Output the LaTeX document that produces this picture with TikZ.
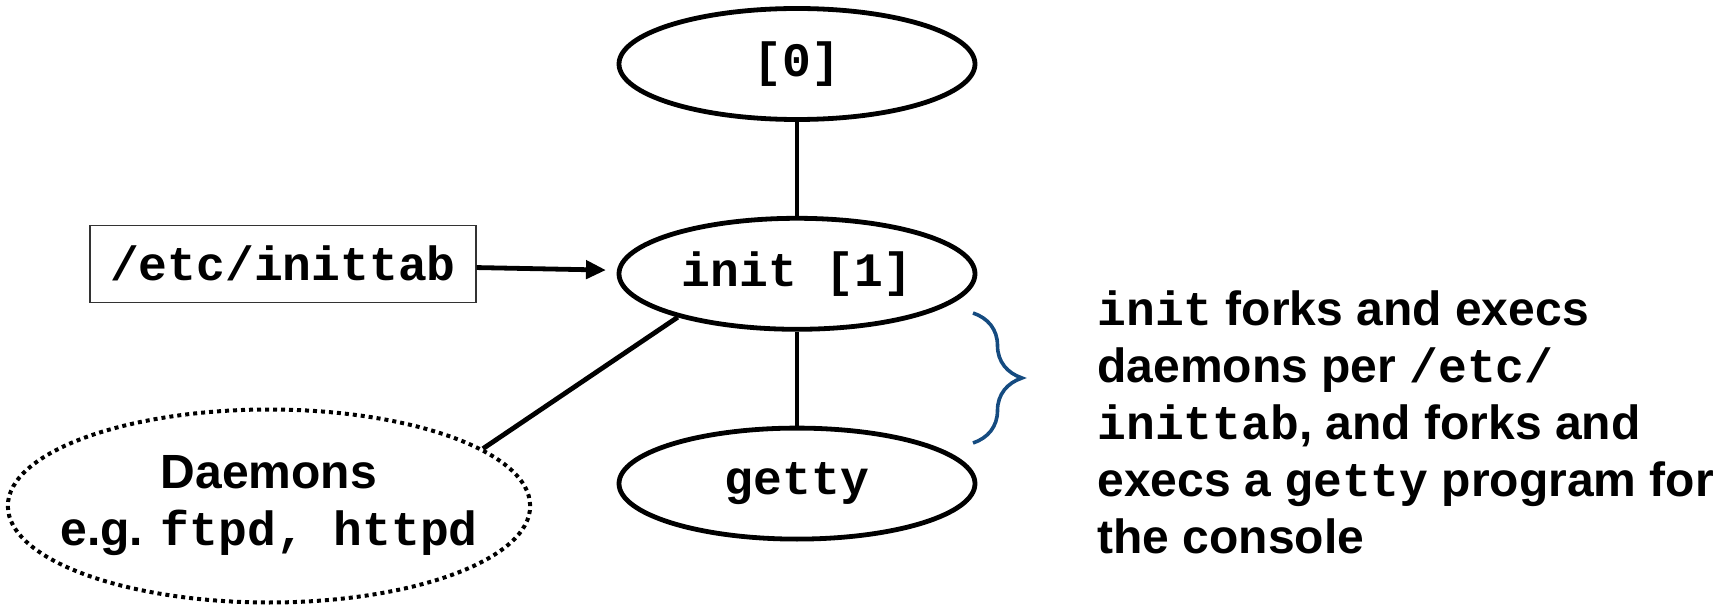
\documentclass[tikz,border=0pt]{standalone}
\usepackage{fontspec}
\setmainfont{Liberation Sans}
\setmonofont{Liberation Mono}
\usepackage{xcolor}
\usepackage{tikz}
\usetikzlibrary{arrows.meta,positioning,shapes.geometric,decorations.pathreplacing}
\definecolor{BraceBlue}{HTML}{154B80}
\newcommand{\bigfont}{\fontsize{24}{28.5}\selectfont\bfseries}
\newcommand{\code}[1]{\texttt{#1}}
\tikzset{
  process/.style={draw, ellipse, line width=2.4pt, inner sep=0pt,
    minimum width=178pt, minimum height=55.5pt, font=\bigfont\ttfamily},
  daemonset/.style={draw, ellipse, dotted, line width=2pt, inner xsep=-12pt, inner ysep=0pt,
    minimum width=257pt, minimum height=96.5pt, align=center, font=\bigfont},
  filebox/.style={draw=black!80, line width=0.6pt,
    minimum width=193pt, minimum height=38.5pt, font=\bigfont\ttfamily},
  link/.style={line width=2.4pt},
  feed/.style={link, -{Triangle[length=10pt, width=9pt]}, shorten >=5.5pt},
  bracket/.style={draw=BraceBlue, line width=1.8pt, decorate,
    decoration={brace, amplitude=24.5pt}},
  note/.style={align=left, inner sep=0pt, anchor=north west, font=\bigfont}
}

\begin{document}
\begin{tikzpicture}[x=0.5pt, y=-0.5pt, node distance=47pt and 70pt]
  \useasboundingbox (0,0) rectangle (1725,609);
  \node[process] (swapper) at (797,64) {[0]};
  \node[process, below=of swapper] (init) {init [1]};
  \node[process, below=of init] (getty) {getty};
  \node[filebox, left=of init, yshift=5pt] (inittab) {/etc/inittab};
  \node[daemonset] (daemons) at (269,506) {Daemons\\e.g. \code{ftpd, httpd}};
  \draw[link] (swapper) -- (init);
  \draw[link] (init) -- (getty);
  \draw[feed] (inittab) -- (init);
  \draw[link] (daemons.15) -- (init.200);
  % what init does at boot
  \draw[bracket] (973,313) -- (973,443);
  \node[note] (what) at (1097,290) {\code{init} forks and execs\\
    daemons per \code{/etc/}\\
    \code{inittab}, and forks and\\
    execs a \code{getty} program for\\
    the console};
\end{tikzpicture}
\end{document}
